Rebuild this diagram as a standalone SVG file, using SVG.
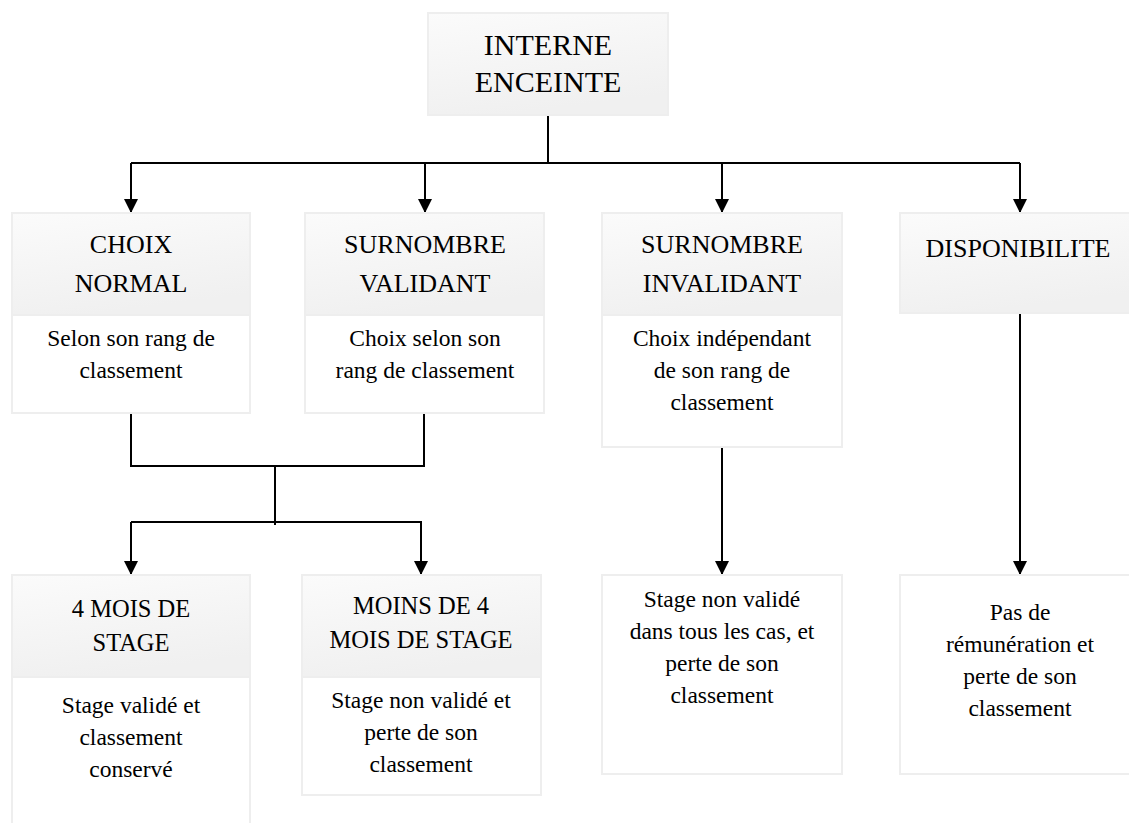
<svg xmlns="http://www.w3.org/2000/svg" width="1129" height="823" viewBox="0 0 1129 823">
  <defs>
    <linearGradient id="hdr" x1="0" y1="0" x2="0.3" y2="1">
      <stop offset="0" stop-color="#fbfbfb"/>
      <stop offset="1" stop-color="#f0f0f0"/>
    </linearGradient>
    <marker id="arr" viewBox="0 0 10 10" refX="10" refY="5" markerWidth="14" markerHeight="14" markerUnits="userSpaceOnUse" orient="auto">
      <path d="M0,0 L10,5 L0,10 z" fill="#000"/>
    </marker>
    <style>
      .box { fill: #ffffff; stroke: #eeeeee; stroke-width: 2; }
      .head { fill: url(#hdr); stroke: #eeeeee; stroke-width: 2; }
      .h1 { font-family: 'Liberation Serif', serif; font-size: 30px; fill: #000; text-anchor: middle; }
      .h2 { font-family: 'Liberation Serif', serif; font-size: 26px; fill: #000; text-anchor: middle; }
      .h3 { font-family: 'Liberation Serif', serif; font-size: 24.5px; fill: #000; text-anchor: middle; }
      .t { font-family: 'Liberation Serif', serif; font-size: 23.5px; fill: #000; text-anchor: middle; }
      .c { fill: none; stroke: #000; stroke-width: 2; }
    </style>
  </defs>
  <rect width="1129" height="823" fill="#ffffff"/>

  <g id="connectors">
    <path class="c" d="M548,115 V163"/>
    <path class="c" d="M131,163 H1020"/>
    <path class="c" d="M131,163 V213" marker-end="url(#arr)"/>
    <path class="c" d="M425,163 V213" marker-end="url(#arr)"/>
    <path class="c" d="M722,163 V213" marker-end="url(#arr)"/>
    <path class="c" d="M1020,163 V213" marker-end="url(#arr)"/>
    <path class="c" d="M131,413 V466 H424 V413"/>
    <path class="c" d="M275,466 V525"/>
    <path class="c" d="M131,522 H421 V575" marker-end="url(#arr)"/>
    <path class="c" d="M131,522 V575" marker-end="url(#arr)"/>
    <path class="c" d="M722,447 V575" marker-end="url(#arr)"/>
    <path class="c" d="M1020,313 V575" marker-end="url(#arr)"/>
  </g>

  <g id="node-interne">
    <rect class="head" x="428" y="13" width="240" height="102"/>
    <text class="h1" x="548" y="55">INTERNE</text>
    <text class="h1" x="548" y="92">ENCEINTE</text>
  </g>

  <g id="node-choix-normal">
    <rect class="box" x="12" y="213" width="238" height="200"/>
    <rect class="head" x="12" y="213" width="238" height="102"/>
    <text class="h2" x="131" y="253">CHOIX</text>
    <text class="h2" x="131" y="292">NORMAL</text>
    <text class="t" x="131" y="346">Selon son rang de</text>
    <text class="t" x="131" y="378">classement</text>
  </g>

  <g id="node-surnombre-validant">
    <rect class="box" x="305" y="213" width="239" height="200"/>
    <rect class="head" x="305" y="213" width="239" height="102"/>
    <text class="h2" x="425" y="253">SURNOMBRE</text>
    <text class="h2" x="425" y="292">VALIDANT</text>
    <text class="t" x="425" y="346">Choix selon son</text>
    <text class="t" x="425" y="378">rang de classement</text>
  </g>

  <g id="node-surnombre-invalidant">
    <rect class="box" x="602" y="213" width="240" height="234"/>
    <rect class="head" x="602" y="213" width="240" height="102"/>
    <text class="h2" x="722" y="253">SURNOMBRE</text>
    <text class="h2" x="722" y="292">INVALIDANT</text>
    <text class="t" x="722" y="346">Choix indépendant</text>
    <text class="t" x="722" y="378">de son rang de</text>
    <text class="t" x="722" y="410">classement</text>
  </g>

  <g id="node-disponibilite">
    <rect class="head" x="900" y="213" width="240" height="100"/>
    <text class="h2" x="1018" y="257">DISPONIBILITE</text>
  </g>

  <g id="node-4-mois">
    <rect class="box" x="12" y="575" width="238" height="260"/>
    <rect class="head" x="12" y="575" width="238" height="102"/>
    <text class="h3" x="131" y="617">4 MOIS DE</text>
    <text class="h3" x="131" y="651">STAGE</text>
    <text class="t" x="131" y="713">Stage validé et</text>
    <text class="t" x="131" y="745">classement</text>
    <text class="t" x="131" y="777">conservé</text>
  </g>

  <g id="node-moins-4-mois">
    <rect class="box" x="302" y="575" width="239" height="220"/>
    <rect class="head" x="302" y="575" width="239" height="102"/>
    <text class="h3" x="421" y="614">MOINS DE 4</text>
    <text class="h3" x="421" y="648">MOIS DE STAGE</text>
    <text class="t" x="421" y="708">Stage non validé et</text>
    <text class="t" x="421" y="740">perte de son</text>
    <text class="t" x="421" y="772">classement</text>
  </g>

  <g id="node-stage-non-valide">
    <rect class="box" x="602" y="575" width="240" height="199"/>
    <text class="t" x="722" y="607">Stage non validé</text>
    <text class="t" x="722" y="639">dans tous les cas, et</text>
    <text class="t" x="722" y="671">perte de son</text>
    <text class="t" x="722" y="703">classement</text>
  </g>

  <g id="node-pas-remuneration">
    <rect class="box" x="900" y="575" width="240" height="199"/>
    <text class="t" x="1020" y="620">Pas de</text>
    <text class="t" x="1020" y="652">rémunération et</text>
    <text class="t" x="1020" y="684">perte de son</text>
    <text class="t" x="1020" y="716">classement</text>
  </g>
</svg>
